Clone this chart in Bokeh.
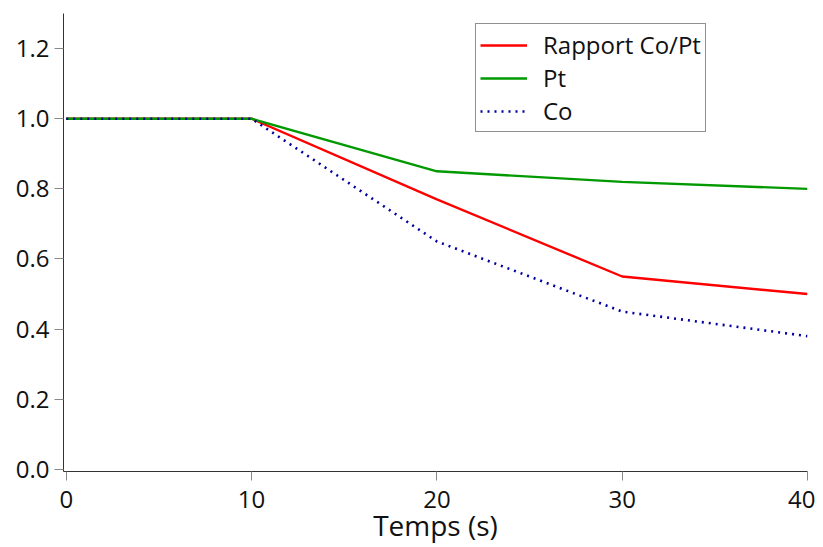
from bokeh.plotting import figure
from bokeh.models import Range1d, FixedTicker, Legend, LegendItem
from bokeh.embed import file_html
from bokeh.resources import INLINE

temps = [0, 10, 20, 30, 40]
rapport = [1.0, 1.0, 0.77, 0.55, 0.50]
pt = [1.0, 1.0, 0.85, 0.82, 0.80]
co = [1.0, 1.0, 0.65, 0.45, 0.38]
x_ticks = [0, 10, 20, 30, 40]
y_ticks = [0.0, 0.2, 0.4, 0.6, 0.8, 1.0, 1.2]
x_title = "Temps (s)"

FONT = "Open Sans"

p = figure(width=815, height=547, output_backend="svg", toolbar_location=None,
           x_range=Range1d(-0.15, 40), y_range=Range1d(-0.006, 1.3),
           min_border_left=63, min_border_right=8, min_border_top=13, min_border_bottom=76)
p.outline_line_color = None
p.grid.grid_line_color = None
p.background_fill_color = "white"

r1 = p.line(temps, rapport, line_color="#ff0000", line_width=2.4)
r2 = p.line(temps, pt, line_color="#009900", line_width=2.4)
r3 = p.line(temps, co, line_color="#0000a0", line_width=2.6, line_dash="2 5")

for ax in (p.xaxis[0], p.yaxis[0]):
    ax.axis_line_color = "#333333"
    ax.axis_line_width = 1
    ax.major_tick_line_color = "#888888"
    ax.major_tick_out = 9
    ax.major_tick_in = 0
    ax.minor_tick_line_color = None
    ax.major_label_text_font = FONT
    ax.major_label_text_font_size = "24px"
    ax.major_label_text_color = "#111111"

p.xaxis.ticker = FixedTicker(ticks=x_ticks)
p.yaxis.ticker = FixedTicker(ticks=y_ticks)
p.yaxis.major_label_overrides = {v: f"{v:.1f}" for v in y_ticks}
p.xaxis.major_label_standoff = 10
p.yaxis.major_label_standoff = 5

p.xaxis.axis_label = x_title
p.xaxis.axis_label_text_font = FONT
p.xaxis.axis_label_text_font_size = "28px"
p.xaxis.axis_label_text_font_style = "normal"
p.xaxis.axis_label_text_color = "#111111"
p.xaxis.axis_label_standoff = -5

legend = Legend(items=[LegendItem(label="Rapport Co/Pt", renderers=[r1]),
                       LegendItem(label="Pt", renderers=[r2]),
                       LegendItem(label="Co", renderers=[r3])],
                location=(412, 339))
legend.label_text_font = FONT
legend.label_text_font_size = "24px"
legend.label_text_color = "#111111"
legend.glyph_width = 47
legend.glyph_height = 32
legend.label_height = 32
legend.label_standoff = 16
legend.spacing = 0
legend.padding = 4
legend.margin = 0
legend.border_line_color = "#222222"
legend.border_line_width = 1
legend.background_fill_alpha = 1
p.add_layout(legend)

open("out.html", "w").write(file_html(p, INLINE))
